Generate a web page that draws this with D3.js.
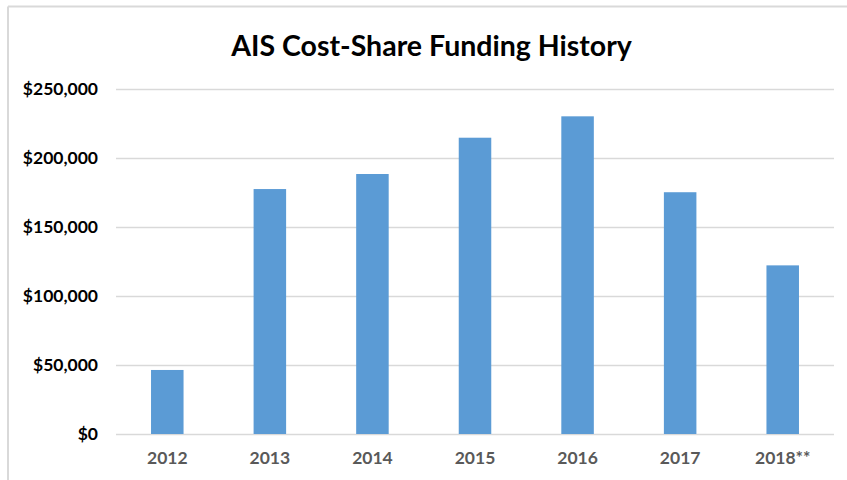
<!DOCTYPE html>
<html>
<head>
<meta charset="utf-8">
<script src="https://cdn.jsdelivr.net/npm/d3@7"></script>
<style>
  html, body { margin: 0; padding: 0; background: #fff; }
  svg { display: block; }
</style>
</head>
<body>
<svg id="chart" width="847" height="480"></svg>
<script>
const titleText = "AIS Cost-Share Funding History";
const categories = ["2012", "2013", "2014", "2015", "2016", "2017", "2018**"];
const values = [46400, 177500, 188400, 214700, 230200, 175200, 122200];
const yTicks = [0, 50000, 100000, 150000, 200000, 250000];

const W = 847, H = 480;
const margin = { left: 116, right: 13, top: 89, bottom: 46 };
const svg = d3.select("#chart");
const fontFamily = "Lato, 'Open Sans', 'DejaVu Sans', sans-serif";

// chart frame (only top and left edges visible in the crop)
svg.append("line").attr("x1", 8).attr("x2", W).attr("y1", 6.5).attr("y2", 6.5)
  .attr("stroke", "#d9d9d9").attr("stroke-width", 2);
svg.append("line").attr("x1", 8).attr("x2", 8).attr("y1", 6.5).attr("y2", H)
  .attr("stroke", "#d9d9d9").attr("stroke-width", 2);

const x = d3.scaleBand()
  .domain(categories)
  .range([margin.left, W - margin.right])
  .paddingInner(0.683)
  .paddingOuter(0.683 / 2);

const y = d3.scaleLinear()
  .domain([0, 250000])
  .range([H - margin.bottom, margin.top]);

// gridlines
const grid = svg.append("g")
  .attr("transform", `translate(${margin.left},0)`)
  .call(d3.axisLeft(y).tickValues(yTicks).tickSize(-(W - margin.right - margin.left)).tickFormat(""));
grid.select(".domain").remove();
grid.selectAll(".tick line").attr("stroke", "#d9d9d9").attr("stroke-width", 1.3);

// y axis labels
const yAxis = svg.append("g")
  .attr("transform", `translate(${margin.left - 18},0)`)
  .call(d3.axisLeft(y).tickValues(yTicks).tickSize(0).tickPadding(0)
    .tickFormat(d => "$" + d3.format(",")(d)));
yAxis.select(".domain").remove();
yAxis.selectAll("text")
  .attr("font-family", fontFamily).attr("font-weight", "bold")
  .attr("font-size", 17.5).attr("fill", "#000");

// bars
svg.append("g").selectAll("rect")
  .data(categories.map((c, i) => ({ c, v: values[i] })))
  .join("rect")
  .attr("x", d => x(d.c))
  .attr("width", x.bandwidth())
  .attr("y", d => y(d.v))
  .attr("height", d => y(0) - y(d.v))
  .attr("fill", "#5b9bd5");

// x axis labels
const xAxis = svg.append("g")
  .attr("transform", `translate(0,${H - margin.bottom})`)
  .call(d3.axisBottom(x).tickSize(0).tickPadding(18));
xAxis.select(".domain").remove();
xAxis.selectAll("text")
  .attr("font-family", fontFamily).attr("font-weight", "bold")
  .attr("font-size", 17.5).attr("fill", "#595959");

// title
svg.append("text")
  .attr("x", 431.5).attr("y", 56)
  .attr("text-anchor", "middle")
  .attr("font-family", fontFamily).attr("font-weight", "bold")
  .attr("font-size", 28.5).attr("fill", "#000")
  .text(titleText);
</script>
</body>
</html>
